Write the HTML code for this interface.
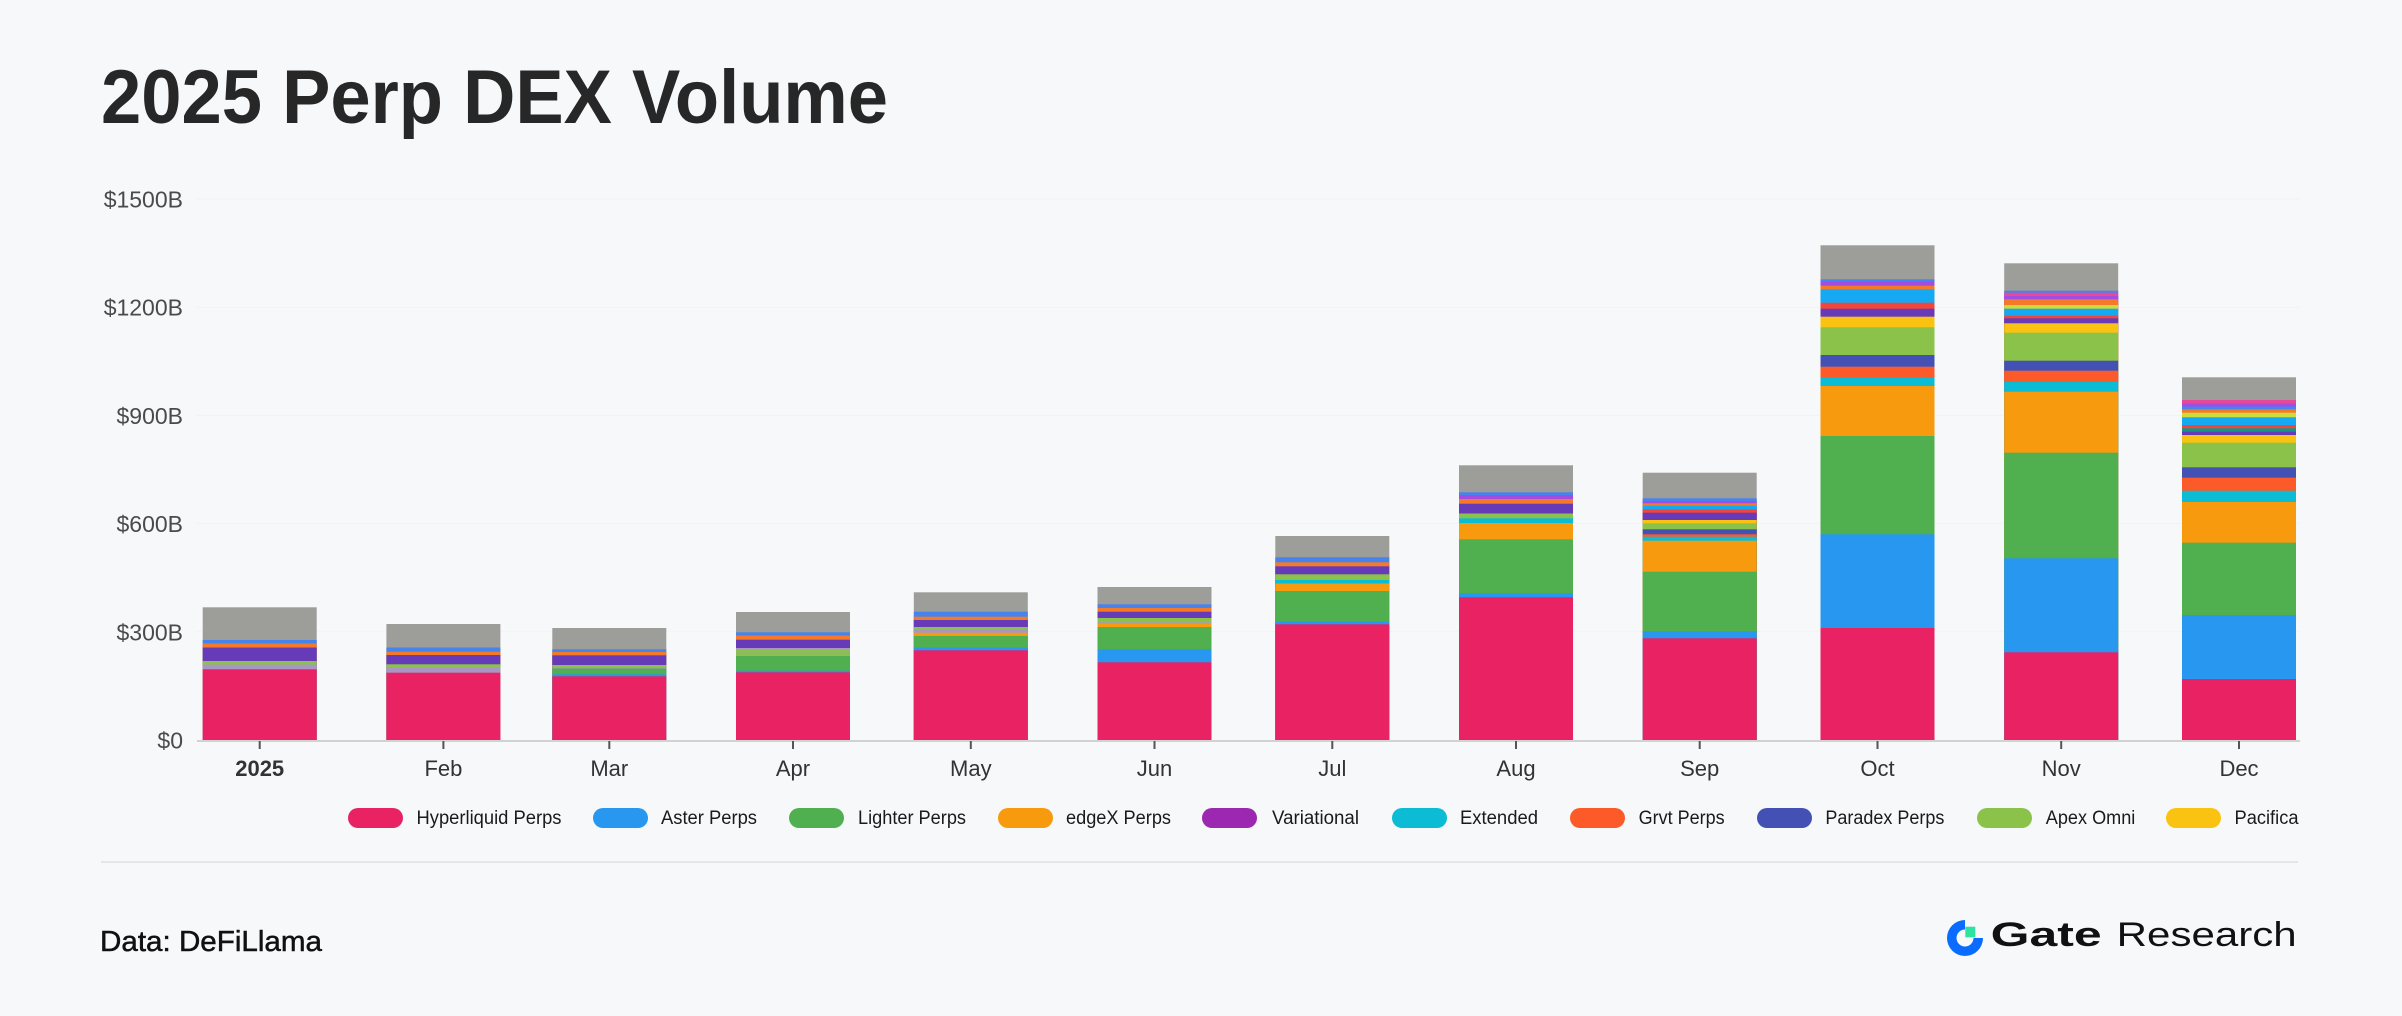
<!DOCTYPE html>
<html><head><meta charset="utf-8"><title>2025 Perp DEX Volume</title>
<style>
html,body{margin:0;padding:0;background:#f7f8fa;}
body{width:2402px;height:1016px;overflow:hidden;}
svg{display:block;font-family:"Liberation Sans",Arial,sans-serif;}
.G{fill:#9d9d9a}.B2{fill:#4683ec}.V{fill:#a24de0}.O2{fill:#f47a2a}.SKY{fill:#14a9f2}.RED{fill:#f2463c}
.PUR{fill:#673ab7}.YEL{fill:#fac312}.APX{fill:#8bc34a}.PDX{fill:#4351b5}.GRV{fill:#fc5a29}.EXT{fill:#0bbcd4}
.EDG{fill:#f79a0e}.LIG{fill:#50b050}.AST{fill:#2797f0}.HYP{fill:#e92263}.LIME{fill:#cddc39}.TEAL{fill:#139688}
.LIL{fill:#a896c4}.MAG{fill:#e8489a}
.yl{font-size:23px;fill:#4a4a4a;text-anchor:end}
.xl{font-size:22px;fill:#333;text-anchor:middle}
.lg{font-size:19px;fill:#1a1a1a}
</style></head>
<body>
<svg width="2402" height="1016" viewBox="0 0 2402 1016" xmlns="http://www.w3.org/2000/svg">
<rect x="0" y="0" width="2402" height="1016" fill="#f7f8fa"/>
<text x="101" y="123" font-size="76" font-weight="bold" textLength="787" lengthAdjust="spacingAndGlyphs" fill="#272727">2025 Perp DEX Volume</text>

<!-- gridlines -->
<g stroke="#f2f3f1" stroke-width="1">
<line x1="196" y1="199" x2="2300" y2="199"/>
<line x1="196" y1="307.2" x2="2300" y2="307.2"/>
<line x1="196" y1="415.4" x2="2300" y2="415.4"/>
<line x1="196" y1="523.6" x2="2300" y2="523.6"/>
<line x1="196" y1="631.8" x2="2300" y2="631.8"/>
</g>

<!-- y labels -->
<text class="yl" x="183" y="207.5">$1500B</text>
<text class="yl" x="183" y="315.7">$1200B</text>
<text class="yl" x="183" y="423.9">$900B</text>
<text class="yl" x="183" y="532.1">$600B</text>
<text class="yl" x="183" y="640.3">$300B</text>
<text class="yl" x="183" y="748.5">$0</text>

<!-- bars -->
<g transform="translate(202.7,0)">
<rect class="G" y="607.3" width="114" height="132.7"/><rect class="B2" y="640" width="114" height="100"/><rect class="O2" y="643.5" width="114" height="96.5"/><rect class="PUR" y="647.5" width="114" height="92.5"/><rect class="APX" y="661" width="114" height="79"/><rect class="LIL" y="664.5" width="114" height="75.5"/><rect class="HYP" y="669.3" width="114" height="70.7"/>
</g>
<g transform="translate(386.4,0)">
<rect class="G" y="624" width="114" height="116"/><rect class="B2" y="647.5" width="114" height="92.5"/><rect class="O2" y="651.7" width="114" height="88.3"/><rect class="PUR" y="655" width="114" height="85"/><rect class="APX" y="664.3" width="114" height="75.7"/><rect class="LIL" y="667" width="114" height="73"/><rect class="HYP" y="672.7" width="114" height="67.3"/>
</g>
<g transform="translate(552.3,0)">
<rect class="G" y="628" width="114" height="112"/><rect class="B2" y="649.3" width="114" height="90.7"/><rect class="O2" y="652" width="114" height="88"/><rect class="PUR" y="655.3" width="114" height="84.7"/><rect class="APX" y="665" width="114" height="75"/><rect class="LIL" y="667.7" width="114" height="72.3"/><rect class="LIG" y="668.5" width="114" height="71.5"/><rect class="AST" y="674.3" width="114" height="65.7"/><rect class="HYP" y="676.3" width="114" height="63.7"/>
</g>
<g transform="translate(736,0)">
<rect class="G" y="612" width="114" height="128"/><rect class="B2" y="632.3" width="114" height="107.7"/><rect class="O2" y="635.5" width="114" height="104.5"/><rect class="PUR" y="639.7" width="114" height="100.3"/><rect class="LIL" y="648" width="114" height="92"/><rect class="APX" y="650" width="114" height="90"/><rect class="LIL" y="652.7" width="114" height="87.3"/><rect class="APX" y="654" width="114" height="86"/><rect class="LIG" y="656" width="114" height="84"/><rect class="AST" y="670.7" width="114" height="69.3"/><rect class="HYP" y="672.3" width="114" height="67.7"/>
</g>
<g transform="translate(913.8,0)">
<rect class="G" y="592.3" width="114" height="147.7"/><rect class="B2" y="611.7" width="114" height="128.3"/><rect class="O2" y="616.7" width="114" height="123.3"/><rect class="PUR" y="620" width="114" height="120"/><rect class="APX" y="627" width="114" height="113"/><rect class="LIL" y="630" width="114" height="110"/><rect class="EDG" y="632.7" width="114" height="107.3"/><rect class="LIG" y="636" width="114" height="104"/><rect class="AST" y="647.7" width="114" height="92.3"/><rect class="HYP" y="650.3" width="114" height="89.7"/>
</g>
<g transform="translate(1097.5,0)">
<rect class="G" y="587" width="114" height="153"/><rect class="B2" y="604.3" width="114" height="135.7"/><rect class="O2" y="608" width="114" height="132"/><rect class="PUR" y="611.7" width="114" height="128.3"/><rect class="APX" y="618" width="114" height="122"/><rect class="LIL" y="622.3" width="114" height="117.7"/><rect class="EDG" y="623.3" width="114" height="116.7"/><rect class="LIG" y="627" width="114" height="113"/><rect class="AST" y="649.3" width="114" height="90.7"/><rect class="HYP" y="662.3" width="114" height="77.7"/>
</g>
<g transform="translate(1275.3,0)">
<rect class="G" y="536" width="114" height="204"/><rect class="B2" y="557.3" width="114" height="182.7"/><rect class="O2" y="562.3" width="114" height="177.7"/><rect class="PUR" y="566.3" width="114" height="173.7"/><rect class="APX" y="574.3" width="114" height="165.7"/><rect class="EXT" y="580" width="114" height="160"/><rect class="EDG" y="583.5" width="114" height="156.5"/><rect class="LIG" y="591" width="114" height="149"/><rect class="AST" y="621.7" width="114" height="118.3"/><rect class="HYP" y="624.3" width="114" height="115.7"/>
</g>
<g transform="translate(1459,0)">
<rect class="G" y="465.3" width="114" height="274.7"/><rect class="B2" y="492.3" width="114" height="247.7"/><rect class="V" y="495" width="114" height="245"/><rect class="O2" y="499" width="114" height="241"/><rect class="PUR" y="503.7" width="114" height="236.3"/><rect class="APX" y="513.5" width="114" height="226.5"/><rect class="EXT" y="518.3" width="114" height="221.7"/><rect class="EDG" y="523" width="114" height="217"/><rect class="LIG" y="539.3" width="114" height="200.7"/><rect class="AST" y="593.3" width="114" height="146.7"/><rect class="HYP" y="597.3" width="114" height="142.7"/>
</g>
<g transform="translate(1642.7,0)">
<rect class="G" y="472.7" width="114" height="267.3"/><rect class="B2" y="498.3" width="114" height="241.7"/><rect class="V" y="501" width="114" height="239"/><rect class="O2" y="503.3" width="114" height="236.7"/><rect class="SKY" y="505.7" width="114" height="234.3"/><rect class="RED" y="509.3" width="114" height="230.7"/><rect class="PUR" y="512.7" width="114" height="227.3"/><rect class="YEL" y="520" width="114" height="220"/><rect class="APX" y="523.3" width="114" height="216.7"/><rect class="PDX" y="529.3" width="114" height="210.7"/><rect class="GRV" y="534.3" width="114" height="205.7"/><rect class="EXT" y="536.7" width="114" height="203.3"/><rect class="EDG" y="540.7" width="114" height="199.3"/><rect class="LIG" y="571.7" width="114" height="168.3"/><rect class="AST" y="631.3" width="114" height="108.7"/><rect class="HYP" y="638.3" width="114" height="101.7"/>
</g>
<g transform="translate(1820.5,0)">
<rect class="G" y="245.3" width="114" height="494.7"/><rect class="B2" y="279.3" width="114" height="460.7"/><rect class="V" y="281.7" width="114" height="458.3"/><rect class="O2" y="285.7" width="114" height="454.3"/><rect class="SKY" y="289.3" width="114" height="450.7"/><rect class="RED" y="302.7" width="114" height="437.3"/><rect class="PUR" y="308.7" width="114" height="431.3"/><rect class="YEL" y="316.7" width="114" height="423.3"/><rect class="APX" y="327.3" width="114" height="412.7"/><rect class="PDX" y="355" width="114" height="385"/><rect class="GRV" y="366.7" width="114" height="373.3"/><rect class="EXT" y="377.7" width="114" height="362.3"/><rect class="EDG" y="386" width="114" height="354"/><rect class="LIG" y="436" width="114" height="304"/><rect class="AST" y="534.3" width="114" height="205.7"/><rect class="HYP" y="628" width="114" height="112"/>
</g>
<g transform="translate(2004.2,0)">
<rect class="G" y="263.3" width="114" height="476.7"/><rect class="B2" y="290.7" width="114" height="449.3"/><rect class="MAG" y="292.7" width="114" height="447.3"/><rect class="V" y="296" width="114" height="444"/><rect class="O2" y="299.3" width="114" height="440.7"/><rect class="LIME" y="305" width="114" height="435"/><rect class="SKY" y="308.7" width="114" height="431.3"/><rect class="RED" y="315.7" width="114" height="424.3"/><rect class="PUR" y="318.3" width="114" height="421.7"/><rect class="YEL" y="323.3" width="114" height="416.7"/><rect class="APX" y="332.7" width="114" height="407.3"/><rect class="PDX" y="360.7" width="114" height="379.3"/><rect class="GRV" y="370.7" width="114" height="369.3"/><rect class="EXT" y="382" width="114" height="358"/><rect class="EDG" y="391.7" width="114" height="348.3"/><rect class="LIG" y="452.7" width="114" height="287.3"/><rect class="AST" y="558.3" width="114" height="181.7"/><rect class="HYP" y="652.3" width="114" height="87.7"/>
</g>
<g transform="translate(2182,0)">
<rect class="G" y="377.3" width="114" height="362.7"/><rect class="MAG" y="400" width="114" height="340"/><rect class="V" y="403.5" width="114" height="336.5"/><rect class="B2" y="406.5" width="114" height="333.5"/><rect class="O2" y="409.3" width="114" height="330.7"/><rect class="LIME" y="412.7" width="114" height="327.3"/><rect class="SKY" y="417.3" width="114" height="322.7"/><rect class="RED" y="425" width="114" height="315"/><rect class="TEAL" y="428.3" width="114" height="311.7"/><rect class="PUR" y="431.7" width="114" height="308.3"/><rect class="YEL" y="435" width="114" height="305"/><rect class="APX" y="442.7" width="114" height="297.3"/><rect class="PDX" y="467.3" width="114" height="272.7"/><rect class="GRV" y="477.7" width="114" height="262.3"/><rect class="EXT" y="490.7" width="114" height="249.3"/><rect class="EDG" y="502" width="114" height="238"/><rect class="LIG" y="542.7" width="114" height="197.3"/><rect class="AST" y="615" width="114" height="125"/><rect class="HYP" y="679" width="114" height="61"/>
</g>

<!-- axis -->
<rect x="197" y="740" width="2103" height="2" fill="#d2d2d2"/>
<g fill="#555">
<rect x="258.7" y="741" width="2" height="8"/>
<rect x="442.4" y="741" width="2" height="8"/>
<rect x="608.3" y="741" width="2" height="8"/>
<rect x="792" y="741" width="2" height="8"/>
<rect x="969.8" y="741" width="2" height="8"/>
<rect x="1153.5" y="741" width="2" height="8"/>
<rect x="1331.3" y="741" width="2" height="8"/>
<rect x="1515" y="741" width="2" height="8"/>
<rect x="1698.7" y="741" width="2" height="8"/>
<rect x="1876.5" y="741" width="2" height="8"/>
<rect x="2060.2" y="741" width="2" height="8"/>
<rect x="2238" y="741" width="2" height="8"/>
</g>
<text class="xl" x="259.7" y="776" font-weight="bold" font-size="23">2025</text>
<text class="xl" x="443.4" y="776">Feb</text>
<text class="xl" x="609.3" y="776">Mar</text>
<text class="xl" x="793" y="776">Apr</text>
<text class="xl" x="970.8" y="776">May</text>
<text class="xl" x="1154.5" y="776">Jun</text>
<text class="xl" x="1332.3" y="776">Jul</text>
<text class="xl" x="1516" y="776">Aug</text>
<text class="xl" x="1699.7" y="776">Sep</text>
<text class="xl" x="1877.5" y="776">Oct</text>
<text class="xl" x="2061.2" y="776">Nov</text>
<text class="xl" x="2239" y="776">Dec</text>

<!-- legend -->
<rect class="HYP" x="348" y="808" width="55" height="20" rx="10"/>
<text class="lg" x="416.5" y="824" textLength="145" lengthAdjust="spacingAndGlyphs">Hyperliquid Perps</text>
<rect class="AST" x="593" y="808" width="55" height="20" rx="10"/>
<text class="lg" x="661" y="824" textLength="96" lengthAdjust="spacingAndGlyphs">Aster Perps</text>
<rect class="LIG" x="789" y="808" width="55" height="20" rx="10"/>
<text class="lg" x="858" y="824" textLength="108" lengthAdjust="spacingAndGlyphs">Lighter Perps</text>
<rect class="EDG" x="998" y="808" width="55" height="20" rx="10"/>
<text class="lg" x="1066" y="824" textLength="105" lengthAdjust="spacingAndGlyphs">edgeX Perps</text>
<rect fill="#9c27b0" x="1202" y="808" width="55" height="20" rx="10"/>
<text class="lg" x="1272" y="824" textLength="87" lengthAdjust="spacingAndGlyphs">Variational</text>
<rect class="EXT" x="1392" y="808" width="55" height="20" rx="10"/>
<text class="lg" x="1460" y="824" textLength="78" lengthAdjust="spacingAndGlyphs">Extended</text>
<rect class="GRV" x="1570" y="808" width="55" height="20" rx="10"/>
<text class="lg" x="1638.6" y="824" textLength="86" lengthAdjust="spacingAndGlyphs">Grvt Perps</text>
<rect class="PDX" x="1757" y="808" width="55" height="20" rx="10"/>
<text class="lg" x="1825.4" y="824" textLength="119" lengthAdjust="spacingAndGlyphs">Paradex Perps</text>
<rect class="APX" x="1977" y="808" width="55" height="20" rx="10"/>
<text class="lg" x="2045.8" y="824" textLength="89.5" lengthAdjust="spacingAndGlyphs">Apex Omni</text>
<rect class="YEL" x="2166" y="808" width="55" height="20" rx="10"/>
<text class="lg" x="2234.5" y="824" textLength="64" lengthAdjust="spacingAndGlyphs">Pacifica</text>

<!-- separator -->
<rect x="101" y="861" width="2197" height="2" fill="#e4e6e9"/>

<!-- footer -->
<text x="100" y="951" font-size="29" fill="#111" stroke="#111" stroke-width="0.5" textLength="222" lengthAdjust="spacingAndGlyphs">Data: DeFiLlama</text>

<path d="M1983 938 A18 18 0 1 1 1965 920 L1965 929.5 A8.5 8.5 0 1 0 1973.5 938 Z" fill="#0a6cff"/>
<rect x="1965.3" y="926.7" width="10" height="10.6" fill="#2ee3a0"/>
<text x="1990.7" y="946" font-size="34" font-weight="bold" fill="#111" textLength="111" lengthAdjust="spacingAndGlyphs">Gate</text>
<text x="2116.7" y="946" font-size="34" fill="#111" textLength="180" lengthAdjust="spacingAndGlyphs">Research</text>
</svg>
</body></html>
